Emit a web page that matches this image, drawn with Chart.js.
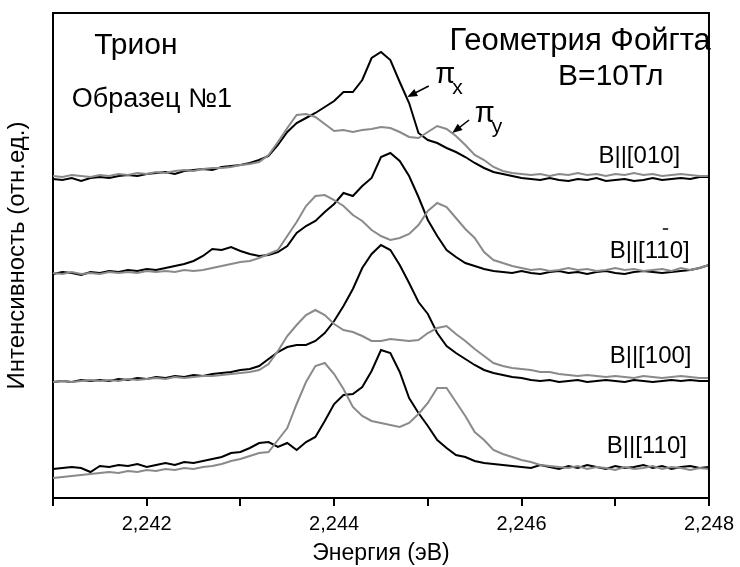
<!DOCTYPE html>
<html>
<head>
<meta charset="utf-8">
<script src="https://cdn.jsdelivr.net/npm/chart.js@4.4.1/dist/chart.umd.min.js"></script>
<style>
  body { margin: 0; background: #fff; }
  #wrap { width: 740px; height: 567px; }
</style>
</head>
<body>
<div id="wrap"><canvas id="spectra"></canvas></div>
<script>
// energy grid, eV
const energy = [
  2.2410, 2.2411, 2.2412, 2.2413, 2.2414, 2.2415, 2.2416, 2.2417, 2.2418, 2.2419,
  2.2420, 2.2421, 2.2422, 2.2423, 2.2424, 2.2425, 2.2426, 2.2427, 2.2428, 2.2429,
  2.2430, 2.2431, 2.2432, 2.2433, 2.2434, 2.2435, 2.2436, 2.2437, 2.2438, 2.2439,
  2.2440, 2.2441, 2.2442, 2.2443, 2.2444, 2.2445, 2.2446, 2.2447, 2.2448, 2.2449,
  2.2450, 2.2451, 2.2452, 2.2453, 2.2454, 2.2455, 2.2456, 2.2457, 2.2458, 2.2459,
  2.2460, 2.2461, 2.2462, 2.2463, 2.2464, 2.2465, 2.2466, 2.2467, 2.2468, 2.2469,
  2.2470, 2.2471, 2.2472, 2.2473, 2.2474, 2.2475, 2.2476, 2.2477, 2.2478, 2.2479,
  2.2480
];

// intensity (arb. units, spectra shifted vertically); piX = black, piY = grey
const piX_010 = [
  319, 318, 320, 317, 320, 321, 320, 322, 323, 322, 324, 325, 326, 324, 327, 328, 329, 328, 331, 332,
  333, 335, 338, 342, 353, 366, 375, 380, 385, 391, 397, 406, 406, 418, 440, 446, 438, 416, 395, 365,
  358, 355, 350, 346, 341, 335, 330, 326, 324, 322, 320, 319, 318, 320, 318, 317, 319, 318, 320, 317,
  318, 319, 317, 318, 320, 318, 319, 320, 319, 321, 321
];
const piY_010 = [
  322, 321, 323, 322, 321, 323, 322, 324, 323, 325, 324, 326, 325, 327, 328, 327, 329, 330, 330, 331,
  333, 334, 336, 343, 356, 370, 383, 384, 381, 374, 367, 368, 366, 368, 369, 371, 370, 366, 361, 360,
  366, 372, 369, 362, 353, 343, 338, 331, 327, 325, 324, 323, 324, 322, 324, 323, 325, 323, 324, 322,
  324, 323, 325, 323, 324, 322, 323, 324, 323, 322, 322
];
const piX_1m10 = [
  224, 226, 225, 223, 226, 225, 227, 226, 228, 227, 229, 228, 230, 232, 234, 237, 242, 249, 248, 251,
  247, 244, 242, 243, 246, 252, 265, 272, 277, 286, 294, 305, 302, 312, 320, 341, 345, 337, 322, 301,
  278, 262, 248, 241, 235, 232, 229, 227, 226, 225, 227, 225, 224, 226, 227, 225, 226, 224, 226, 227,
  225, 224, 226, 227, 226, 225, 226, 227, 228, 230, 233
];
const piY_1m10 = [
  225, 224, 226, 224, 225, 224, 226, 225, 226, 225, 227, 226, 227, 226, 228, 227, 228, 230, 232, 234,
  236, 237, 240, 244, 248, 262, 276, 292, 302, 303, 298, 292, 283, 277, 268, 262, 258, 260, 264, 273,
  287, 295, 291, 280, 269, 260, 246, 238, 235, 232, 230, 228, 229, 227, 228, 230, 228, 229, 227, 228,
  230, 228, 229, 227, 228, 229, 227, 230, 228, 230, 233
];
const piX_100 = [
  116, 117, 116, 118, 117, 118, 117, 119, 118, 120, 119, 121, 120, 122, 121, 123, 122, 124, 125, 126,
  128, 129, 132, 139, 146, 151, 153, 153, 157, 165, 177, 192, 209, 230, 244, 253, 248, 233, 215, 196,
  184, 165, 152, 145, 139, 133, 128, 125, 123, 121, 120, 118, 117, 118, 116, 117, 118, 116, 117, 118,
  117, 116, 118, 117, 116, 117, 118, 117, 118, 117, 117
];
const piY_100 = [
  116, 117, 116, 117, 118, 117, 118, 117, 119, 118, 119, 120, 119, 121, 120, 121, 122, 122, 123, 124,
  125, 126, 128, 134, 147, 162, 173, 183, 188, 183, 174, 168, 166, 162, 157, 157, 159, 158, 157, 158,
  165, 170, 172, 164, 157, 149, 142, 135, 132, 130, 129, 128, 126, 126, 124, 123, 122, 123, 122, 121,
  122, 121, 120, 122, 121, 120, 121, 122, 121, 120, 120
];
const piX_110 = [
  29, 30, 31, 30, 26, 32, 31, 33, 32, 34, 31, 33, 35, 33, 36, 35, 37, 39, 41, 45,
  46, 50, 55, 56, 51, 55, 48, 56, 61, 77, 94, 103, 104, 111, 127, 148, 145, 126, 100, 85,
  72, 58, 50, 43, 41, 37, 35, 34, 33, 32, 31, 30, 33, 31, 29, 32, 30, 33, 31, 29,
  32, 30, 31, 33, 30, 32, 29, 31, 32, 30, 31
];
const piY_110 = [
  20, 21, 22, 23, 24, 25, 26, 25, 27, 26, 28, 27, 29, 28, 30, 29, 31, 32, 34, 37,
  39, 42, 45, 46, 58, 70, 94, 116, 132, 135, 124, 109, 91, 82, 77, 75, 73, 71, 75, 84,
  95, 110, 110, 96, 82, 66, 58, 48, 44, 41, 38, 36, 33, 32, 31, 30, 32, 29, 31, 30,
  28, 31, 29, 30, 32, 29, 31, 30, 28, 30, 29
];

const BLACK = '#000000';
const GREY = '#8a8a8a';
const FONT = '"Liberation Sans", Arial, sans-serif';

function series(values, color) {
  return {
    data: energy.map((e, i) => ({ x: e, y: values[i] })),
    borderColor: color,
    borderWidth: 2,
    pointRadius: 0,
    tension: 0,
    fill: false
  };
}

// text notes placed in data units (energy, intensity)
const notes = [
  { text: 'Трион', e: 2.24144, i: 444, size: 30 },
  { text: 'Образец №1', e: 2.24120, i: 391, size: 27 },
  { text: 'Геометрия Фойгта', e: 2.24802, i: 448, size: 31, align: 'right' },
  { text: 'B=10Тл', e: 2.24639, i: 413, size: 30 },
  { text: 'B||[010]', e: 2.24682, i: 335, size: 24 },
  { text: 'B||[110]', e: 2.24694, i: 240, size: 24, bar: true },
  { text: 'B||[100]', e: 2.24694, i: 135, size: 24 },
  { text: 'B||[110]', e: 2.24691, i: 45, size: 24 }
];
const pis = [
  { sub: 'x', e: 2.24508, i: 415, from: [2.24501, 412], to: [2.24478, 401] },
  { sub: 'y', e: 2.24550, i: 376, from: [2.24544, 378], to: [2.24526, 365] }
];

const extras = {
  id: 'extras',
  afterDatasetsDraw(chart) {
    const { ctx, chartArea: a, scales: { x, y } } = chart;
    ctx.save();
    // box: top and right sides
    ctx.strokeStyle = BLACK;
    ctx.lineWidth = 2;
    ctx.beginPath();
    ctx.moveTo(a.left, a.top);
    ctx.lineTo(a.right, a.top);
    ctx.lineTo(a.right, a.bottom);
    ctx.stroke();

    ctx.fillStyle = BLACK;
    ctx.textBaseline = 'alphabetic';
    notes.forEach(n => {
      ctx.font = n.size + 'px ' + FONT;
      ctx.textAlign = n.align || 'left';
      const px = x.getPixelForValue(n.e), py = y.getPixelForValue(n.i);
      ctx.fillText(n.text, px, py);
      if (n.bar) {
        const bx = px + ctx.measureText('B||[1').width;
        const w = ctx.measureText('1').width;
        ctx.lineWidth = 1.5;
        ctx.beginPath();
        ctx.moveTo(bx + w * 0.35, py - 29);
        ctx.lineTo(bx + w * 0.75, py - 29);
        ctx.stroke();
      }
    });

    ctx.textAlign = 'left';
    pis.forEach(p => {
      const px = x.getPixelForValue(p.e), py = y.getPixelForValue(p.i);
      ctx.font = '29px ' + FONT;
      ctx.fillText('π', px, py);
      ctx.font = '21px ' + FONT;
      ctx.fillText(p.sub, px + 17, py + 11);
      // arrow
      const x1 = x.getPixelForValue(p.from[0]), y1 = y.getPixelForValue(p.from[1]);
      const x2 = x.getPixelForValue(p.to[0]), y2 = y.getPixelForValue(p.to[1]);
      const ang = Math.atan2(y2 - y1, x2 - x1);
      ctx.lineWidth = 1.5;
      ctx.beginPath();
      ctx.moveTo(x1, y1);
      ctx.lineTo(x2 - 6 * Math.cos(ang), y2 - 6 * Math.sin(ang));
      ctx.stroke();
      ctx.beginPath();
      ctx.moveTo(x2, y2);
      ctx.lineTo(x2 - 10 * Math.cos(ang) + 4 * Math.sin(ang), y2 - 10 * Math.sin(ang) - 4 * Math.cos(ang));
      ctx.lineTo(x2 - 10 * Math.cos(ang) - 4 * Math.sin(ang), y2 - 10 * Math.sin(ang) + 4 * Math.cos(ang));
      ctx.closePath();
      ctx.fill();
    });
    ctx.restore();
  }
};

const ctx = document.getElementById('spectra').getContext('2d');
new Chart(ctx, {
  type: 'line',
  data: {
    datasets: [
      series(piY_010, GREY), series(piY_1m10, GREY), series(piY_100, GREY), series(piY_110, GREY),
      series(piX_010, BLACK), series(piX_1m10, BLACK), series(piX_100, BLACK), series(piX_110, BLACK)
    ]
  },
  options: {
    responsive: true,
    maintainAspectRatio: false,
    animation: false,
    layout: { padding: { top: 13, right: 26, left: 0, bottom: 0 } },
    plugins: { legend: { display: false }, tooltip: { enabled: false } },
    scales: {
      x: {
        type: 'linear',
        min: 2.241,
        max: 2.248,
        afterFit(scale) { scale.height = 69; },
        ticks: {
          stepSize: 0.001,
          padding: 6,
          color: BLACK,
          font: { family: FONT, size: 20 },
          maxRotation: 0,
          callback: v => {
            const k = Math.round(v * 1000);
            return k % 2 === 0 ? (k / 1000).toFixed(3).replace('.', ',') : '';
          }
        },
        grid: { drawOnChartArea: false, drawTicks: true, tickLength: 8, color: BLACK, lineWidth: 2 },
        border: { display: true, color: BLACK, width: 2 },
        title: {
          display: true,
          text: 'Энергия (эВ)',
          color: BLACK,
          font: { family: FONT, size: 23 },
          padding: { top: 0, bottom: 0 }
        }
      },
      y: {
        min: 0,
        max: 485,
        afterFit(scale) { scale.width = 53; },
        ticks: { display: false },
        grid: { display: false },
        border: { display: true, color: BLACK, width: 2 },
        title: {
          display: true,
          text: 'Интенсивность (отн.ед.)',
          color: BLACK,
          font: { family: FONT, size: 24 },
          padding: { top: 3, bottom: 0 }
        }
      }
    }
  },
  plugins: [extras]
});
</script>
</body>
</html>
